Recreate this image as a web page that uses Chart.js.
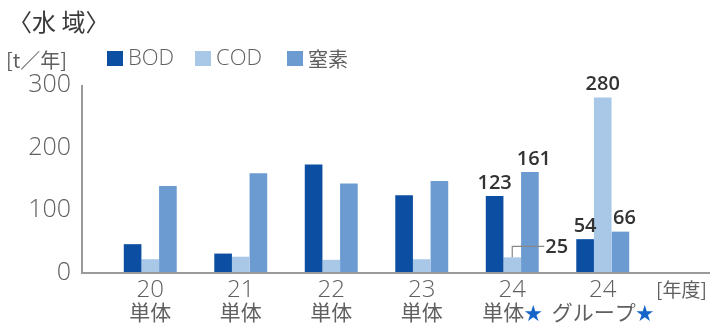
<!DOCTYPE html>
<html lang="ja">
<head>
<meta charset="UTF-8">
<title>水域</title>
<script src="https://cdn.jsdelivr.net/npm/chart.js"></script>
<style>
  body { margin: 0; background: #fff; }
  canvas { display: block; }
</style>
</head>
<body>
<canvas id="waterChart" width="728" height="324"></canvas>
<script>
// 年度ごとの排出量 [t/年]
const years = ['20', '21', '22', '23', '24', '24'];
const scopes = ['単体', '単体', '単体', '単体', '単体★', 'グループ★'];
const bod = [46, 31, 173, 124, 123, 54];
const cod = [22, 26, 21, 22, 25, 280];
const nitrogen = [139, 159, 143, 147, 161, 66];
const yTicks = [0, 100, 200, 300];
// 数値を表示する年度 (24年度のみ)
const labelled = [4, 5];

const colors = ['#0b4ea2', '#a9c8e8', '#6b9bd1'];
const names = ['BOD', 'COD', '窒素'];

const numFont = '"Open Sans", "Noto Sans", sans-serif';
const jpFont = '"Noto Sans CJK JP", "Noto Sans", sans-serif';
const gray = '#606060';

const frame = {
  id: 'frame',
  afterDatasetsDraw(chart) {
    const ctx = chart.ctx;
    const area = chart.chartArea;
    const xs = chart.scales.x;
    const ys = chart.scales.y;
    const y0 = ys.getPixelForValue(0);
    const axisX = area.left - 23;

    ctx.save();
    // 軸線
    ctx.strokeStyle = '#9a9a9a';
    ctx.lineWidth = 2;
    ctx.beginPath();
    ctx.moveTo(axisX, ys.getPixelForValue(300));
    ctx.lineTo(axisX, y0);
    ctx.lineTo(area.right + 62, y0);
    ctx.stroke();

    // 年度ラベル
    ctx.textBaseline = 'middle';
    years.forEach((yr, i) => {
      const cx = xs.getPixelForValue(i);
      ctx.fillStyle = gray;
      ctx.textAlign = 'center';
      ctx.font = '300 24px ' + numFont;
      ctx.fillText(yr, cx, y0 + 17);

      ctx.font = '21px ' + jpFont;
      const txt = scopes[i].replace('★', '');
      const star = scopes[i].endsWith('★') ? '★' : '';
      const w1 = ctx.measureText(txt).width;
      ctx.font = '18px ' + jpFont;
      const w2 = star ? ctx.measureText(star).width : 0;
      let sx = cx - (w1 + w2) / 2;
      ctx.textAlign = 'left';
      ctx.font = '21px ' + jpFont;
      ctx.fillStyle = gray;
      ctx.fillText(txt, sx, y0 + 39);
      if (star) {
        ctx.font = '18px ' + jpFont;
        ctx.fillStyle = '#1565c9';
        ctx.fillText(star, sx + w1, y0 + 40);
      }
    });

    ctx.fillStyle = gray;
    ctx.font = '19px ' + jpFont;
    ctx.textAlign = 'left';
    ctx.fillText('[年度]', area.right + 8, y0 + 17);

    // 見出しと凡例
    ctx.fillStyle = '#3a3a3a';
    ctx.font = '24px ' + jpFont;
    ctx.fillText('〈水 域〉', 8, 22);

    ctx.fillStyle = gray;
    ctx.font = '20px ' + jpFont;
    ctx.fillText('[t／年]', 6, 60);

    const legendX = [107, 195, 287];
    names.forEach((n, k) => {
      ctx.fillStyle = colors[k];
      ctx.fillRect(legendX[k], 51, 16, 15);
      ctx.fillStyle = gray;
      ctx.font = (k < 2 ? '300 22px ' + numFont : '20px ' + jpFont);
      ctx.fillText(n, legendX[k] + 21, 59);
    });

    // 数値ラベル
    ctx.fillStyle = '#333';
    ctx.font = '600 20px ' + numFont;
    ctx.textAlign = 'center';
    ctx.textBaseline = 'bottom';
    chart.data.datasets.forEach((ds, k) => {
      const meta = chart.getDatasetMeta(k);
      labelled.forEach(i => {
        const bar = meta.data[i];
        if (k === 1 && i === 4) {
          // 低い値は引き出し線で表示
          const ly = bar.y - 11;
          ctx.strokeStyle = '#888';
          ctx.lineWidth = 1.2;
          ctx.beginPath();
          ctx.moveTo(bar.x, bar.y);
          ctx.lineTo(bar.x, ly);
          ctx.lineTo(bar.x + 32, ly);
          ctx.stroke();
          ctx.textAlign = 'left';
          ctx.textBaseline = 'middle';
          ctx.fillText(String(ds.data[i]), bar.x + 33, ly + 1);
          ctx.textAlign = 'center';
          ctx.textBaseline = 'bottom';
        } else {
          const dx = k === 2 ? 4 : 0;
          ctx.fillText(String(ds.data[i]), bar.x + dx, bar.y - 3);
        }
      });
    });
    ctx.restore();
  }
};

new Chart(document.getElementById('waterChart'), {
  type: 'bar',
  data: {
    labels: years,
    datasets: [
      { label: names[0], data: bod, backgroundColor: colors[0] },
      { label: names[1], data: cod, backgroundColor: colors[1] },
      { label: names[2], data: nitrogen, backgroundColor: colors[2] }
    ]
  },
  options: {
    responsive: false,
    animation: false,
    layout: { padding: { top: 85, right: 80, left: 0, bottom: 0 } },
    plugins: { legend: { display: false }, tooltip: { enabled: false } },
    datasets: { bar: { categoryPercentage: 0.585, barPercentage: 1.0 } },
    scales: {
      x: {
        ticks: { display: false },
        grid: { display: false },
        border: { display: false },
        afterFit: s => { s.height = 51; }
      },
      y: {
        min: 0,
        max: 300,
        afterBuildTicks: s => { s.ticks = yTicks.map(v => ({ value: v })); },
        ticks: { color: gray, padding: 26, font: { family: numFont, size: 25, weight: '300' } },
        grid: { display: false },
        border: { display: false },
        afterFit: s => { s.width = 105; }
      }
    }
  },
  plugins: [frame]
});
</script>
</body>
</html>
